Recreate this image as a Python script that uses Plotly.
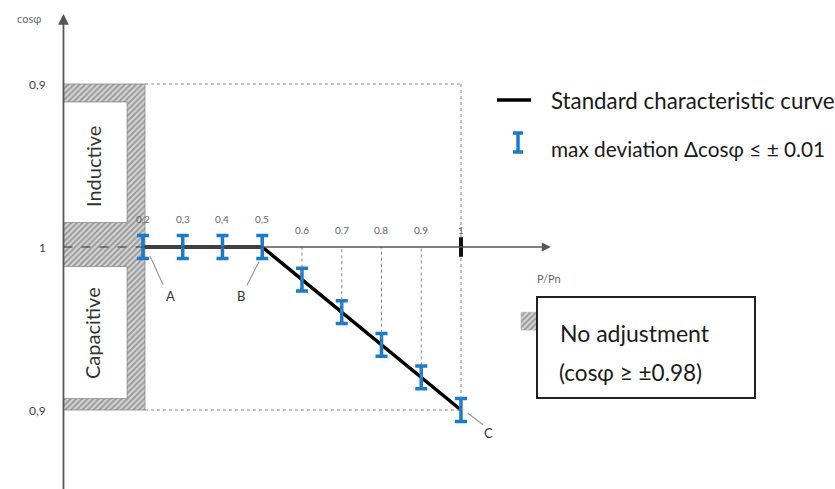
import plotly.graph_objects as go

# ---- data ----
p_values = [0.2, 0.3, 0.4, 0.5, 0.6, 0.7, 0.8, 0.9, 1.0]
# signed deviation from cos phi = 1 (positive = inductive, negative = capacitive)
cos_dev = [0.0, 0.0, 0.0, 0.0, -0.02, -0.04, -0.06, -0.08, -0.10]
err_half = [0.007] * 9
x_tick_labels = ["0,2", "0,3", "0,4", "0,5", "0.6", "0.7", "0.8", "0.9", "1"]
y_tick_vals = [0.1, 0.0, -0.1]
y_tick_labels = ["0,9", "1", "0,9"]

W, H = 835, 489
BLUE = "#1b7bc9"
GRAY = "#666666"
FONT = "Lato"


def px(x):
    return x / W


def py(y):
    return 1 - y / H


fig = go.Figure()

hatch = dict(shape="/", fgcolor="#555555", bgcolor="#d4d4d4", size=4, solidity=0.45)

# hatched E-shaped region
hx = [0, 0.205, 0.205, 0, 0, 0.16, 0.16, 0, 0, 0.16, 0.16, 0, 0]
hy = [0.1, 0.1, -0.1, -0.1, -0.093, -0.093, -0.012, -0.012, 0.015, 0.015, 0.089, 0.089, 0.1]
fig.add_trace(go.Scatter(
    x=hx, y=hy, mode="lines", fill="toself",
    line=dict(color="#888888", width=0.8),
    fillpattern=hatch,
    hoverinfo="skip", showlegend=False))

# small hatched square next to the box
fig.add_trace(go.Scatter(
    x=[1.151, 1.191, 1.191, 1.151, 1.151], y=[-0.040, -0.040, -0.051, -0.051, -0.040],
    mode="lines", fill="toself", line=dict(color="#aaaaaa", width=0.5),
    fillpattern=hatch,
    hoverinfo="skip", showlegend=False))

shapes = []
dot = dict(color="#888888", width=1, dash="dot")
# boundary dotted lines
shapes.append(dict(type="line", xref="x", yref="y", x0=0.205, x1=1.0, y0=0.1, y1=0.1, line=dot))
shapes.append(dict(type="line", xref="x", yref="y", x0=0.205, x1=1.0, y0=-0.1, y1=-0.1, line=dot))
shapes.append(dict(type="line", xref="x", yref="y", x0=1.0, x1=1.0, y0=0.1, y1=-0.1, line=dot))
# dotted verticals from points to axis
for p, v in zip(p_values, cos_dev):
    if v < 0 and p < 1.0:
        shapes.append(dict(type="line", xref="x", yref="y", x0=p, x1=p, y0=v, y1=0, line=dot))
# dashed axis inside hatched region
shapes.append(dict(type="line", xref="x", yref="y", x0=0, x1=0.2, y0=0, y1=0,
                   line=dict(color="#333333", width=1.2, dash="dash")))
# thick tick at P/Pn = 1
shapes.append(dict(type="line", xref="x", yref="y", x0=1.0, x1=1.0, y0=0.006, y1=-0.006,
                   line=dict(color="#111111", width=4)))
# leader lines A, B, C
for x0, y0, x1, y1 in [(0.2176, -0.0055, 0.2503, -0.023),
                       (0.4616, -0.0235, 0.4918, -0.009),
                       (1.0176, -0.102, 1.0553, -0.109)]:
    shapes.append(dict(type="line", xref="x", yref="y", x0=x0, x1=x1, y0=y0, y1=y1,
                       line=dict(color="#999999", width=1.2)))

# legend: black line
shapes.append(dict(type="line", xref="paper", yref="paper", x0=px(497), x1=px(531), y0=py(100), y1=py(100),
                   line=dict(color="black", width=3.5)))
# legend: blue I
shapes.append(dict(type="line", xref="paper", yref="paper", x0=px(518), x1=px(518), y0=py(133), y1=py(152),
                   line=dict(color=BLUE, width=3.5)))
for yy in (133, 152):
    shapes.append(dict(type="line", xref="paper", yref="paper", x0=px(513), x1=px(523), y0=py(yy), y1=py(yy),
                       line=dict(color=BLUE, width=3.5)))
# no-adjustment box
shapes.append(dict(type="rect", xref="paper", yref="paper", x0=px(537), x1=px(755), y0=py(297), y1=py(398),
                   line=dict(color="#222222", width=2)))

# characteristic curve
fig.add_trace(go.Scatter(x=p_values, y=cos_dev, mode="lines",
                         line=dict(color="black", width=3.5), hoverinfo="skip", showlegend=False))
# deviation bars
fig.add_trace(go.Scatter(x=p_values, y=cos_dev, mode="markers",
                         marker=dict(size=1, color=BLUE),
                         error_y=dict(type="data", array=err_half, color=BLUE, thickness=3.5, width=6),
                         hoverinfo="skip", showlegend=False))

ann = []
# axes arrows
ann.append(dict(x=0, y=0.143, ax=0, ay=-0.152, xref="x", yref="y", axref="x", ayref="y",
                showarrow=True, arrowhead=2, arrowsize=1.2, arrowwidth=1.8, arrowcolor="#555555", text=""))
ann.append(dict(x=1.226, y=0, ax=0.2, ay=0, xref="x", yref="y", axref="x", ayref="y",
                showarrow=True, arrowhead=2, arrowsize=1.2, arrowwidth=1.5, arrowcolor="#555555", text=""))
# x tick labels
for p, lab, v in zip(p_values, x_tick_labels, cos_dev):
    yy = 0.0125 if v == 0 else 0.0055
    ann.append(dict(x=p, y=yy, xref="x", yref="y", text=lab, showarrow=False,
                    xanchor="center", yanchor="bottom", font=dict(family=FONT, size=10, color=GRAY)))
# y tick labels
for v, lab in zip(y_tick_vals, y_tick_labels):
    ann.append(dict(x=-0.04, y=v, xref="x", yref="y", text=lab, showarrow=False,
                    xanchor="right", yanchor="middle", font=dict(family=FONT, size=12, color="#444444")))
# axis titles
ann.append(dict(x=px(29), y=py(18), xref="paper", yref="paper", text="cosφ", showarrow=False,
                xanchor="center", yanchor="middle", font=dict(family=FONT, size=11, color=GRAY)))
ann.append(dict(x=1.222, y=-0.014, xref="x", yref="y", text="P/Pn", showarrow=False,
                xanchor="center", yanchor="top", font=dict(family=FONT, size=11, color=GRAY)))
# point labels
for x, y, t in [(0.268, -0.030, "A"), (0.4465, -0.030, "B"), (1.068, -0.114, "C")]:
    ann.append(dict(x=x, y=y, xref="x", yref="y", text=t, showarrow=False,
                    xanchor="center", yanchor="middle",
                    font=dict(family=FONT, size=13, color="#333333")))
# region labels
ann.append(dict(x=px(93), y=py(167), xref="paper", yref="paper", text="Inductive", textangle=-90,
                xanchor="center", yanchor="middle",
                showarrow=False, font=dict(family=FONT, size=20, color="#333333")))
ann.append(dict(x=px(92), y=py(333), xref="paper", yref="paper", text="Capacitive", textangle=-90,
                xanchor="center", yanchor="middle",
                showarrow=False, font=dict(family=FONT, size=20, color="#333333")))
# legend text
ann.append(dict(x=px(549), y=py(100), xref="paper", yref="paper", text="Standard characteristic curve",
                xanchor="left", yanchor="middle", showarrow=False,
                font=dict(family=FONT, size=22.3, color="#1a1a1a")))
ann.append(dict(x=px(549), y=py(148), xref="paper", yref="paper", text="max deviation Δcosφ ≤ ± 0.01",
                xanchor="left", yanchor="middle", showarrow=False,
                font=dict(family=FONT, size=20.8, color="#1a1a1a")))
# box text
ann.append(dict(x=px(558), y=py(333), xref="paper", yref="paper", text="No adjustment",
                xanchor="left", yanchor="middle", showarrow=False,
                font=dict(family=FONT, size=23, color="#1a1a1a")))
ann.append(dict(x=px(557), y=py(372), xref="paper", yref="paper", text="(cosφ ≥ ±0.98)",
                xanchor="left", yanchor="middle", showarrow=False,
                font=dict(family=FONT, size=22.5, color="#1a1a1a")))

# y pixel = 247 - v*1630 ; x pixel = 143 + (p-0.2)*397.5
fig.update_layout(
    width=W, height=H,
    margin=dict(l=0, r=0, t=0, b=0),
    paper_bgcolor="white", plot_bgcolor="white",
    xaxis=dict(range=[-0.1597, 1.9409], visible=False, fixedrange=True),
    yaxis=dict(range=[(247 - 489) / 1630, 247 / 1630], visible=False, fixedrange=True),
    shapes=shapes, annotations=ann, showlegend=False,
)

fig.write_html("out.html", config={"displayModeBar": False},
               post_script="document.body.style.margin='0';document.body.style.padding='0';")
